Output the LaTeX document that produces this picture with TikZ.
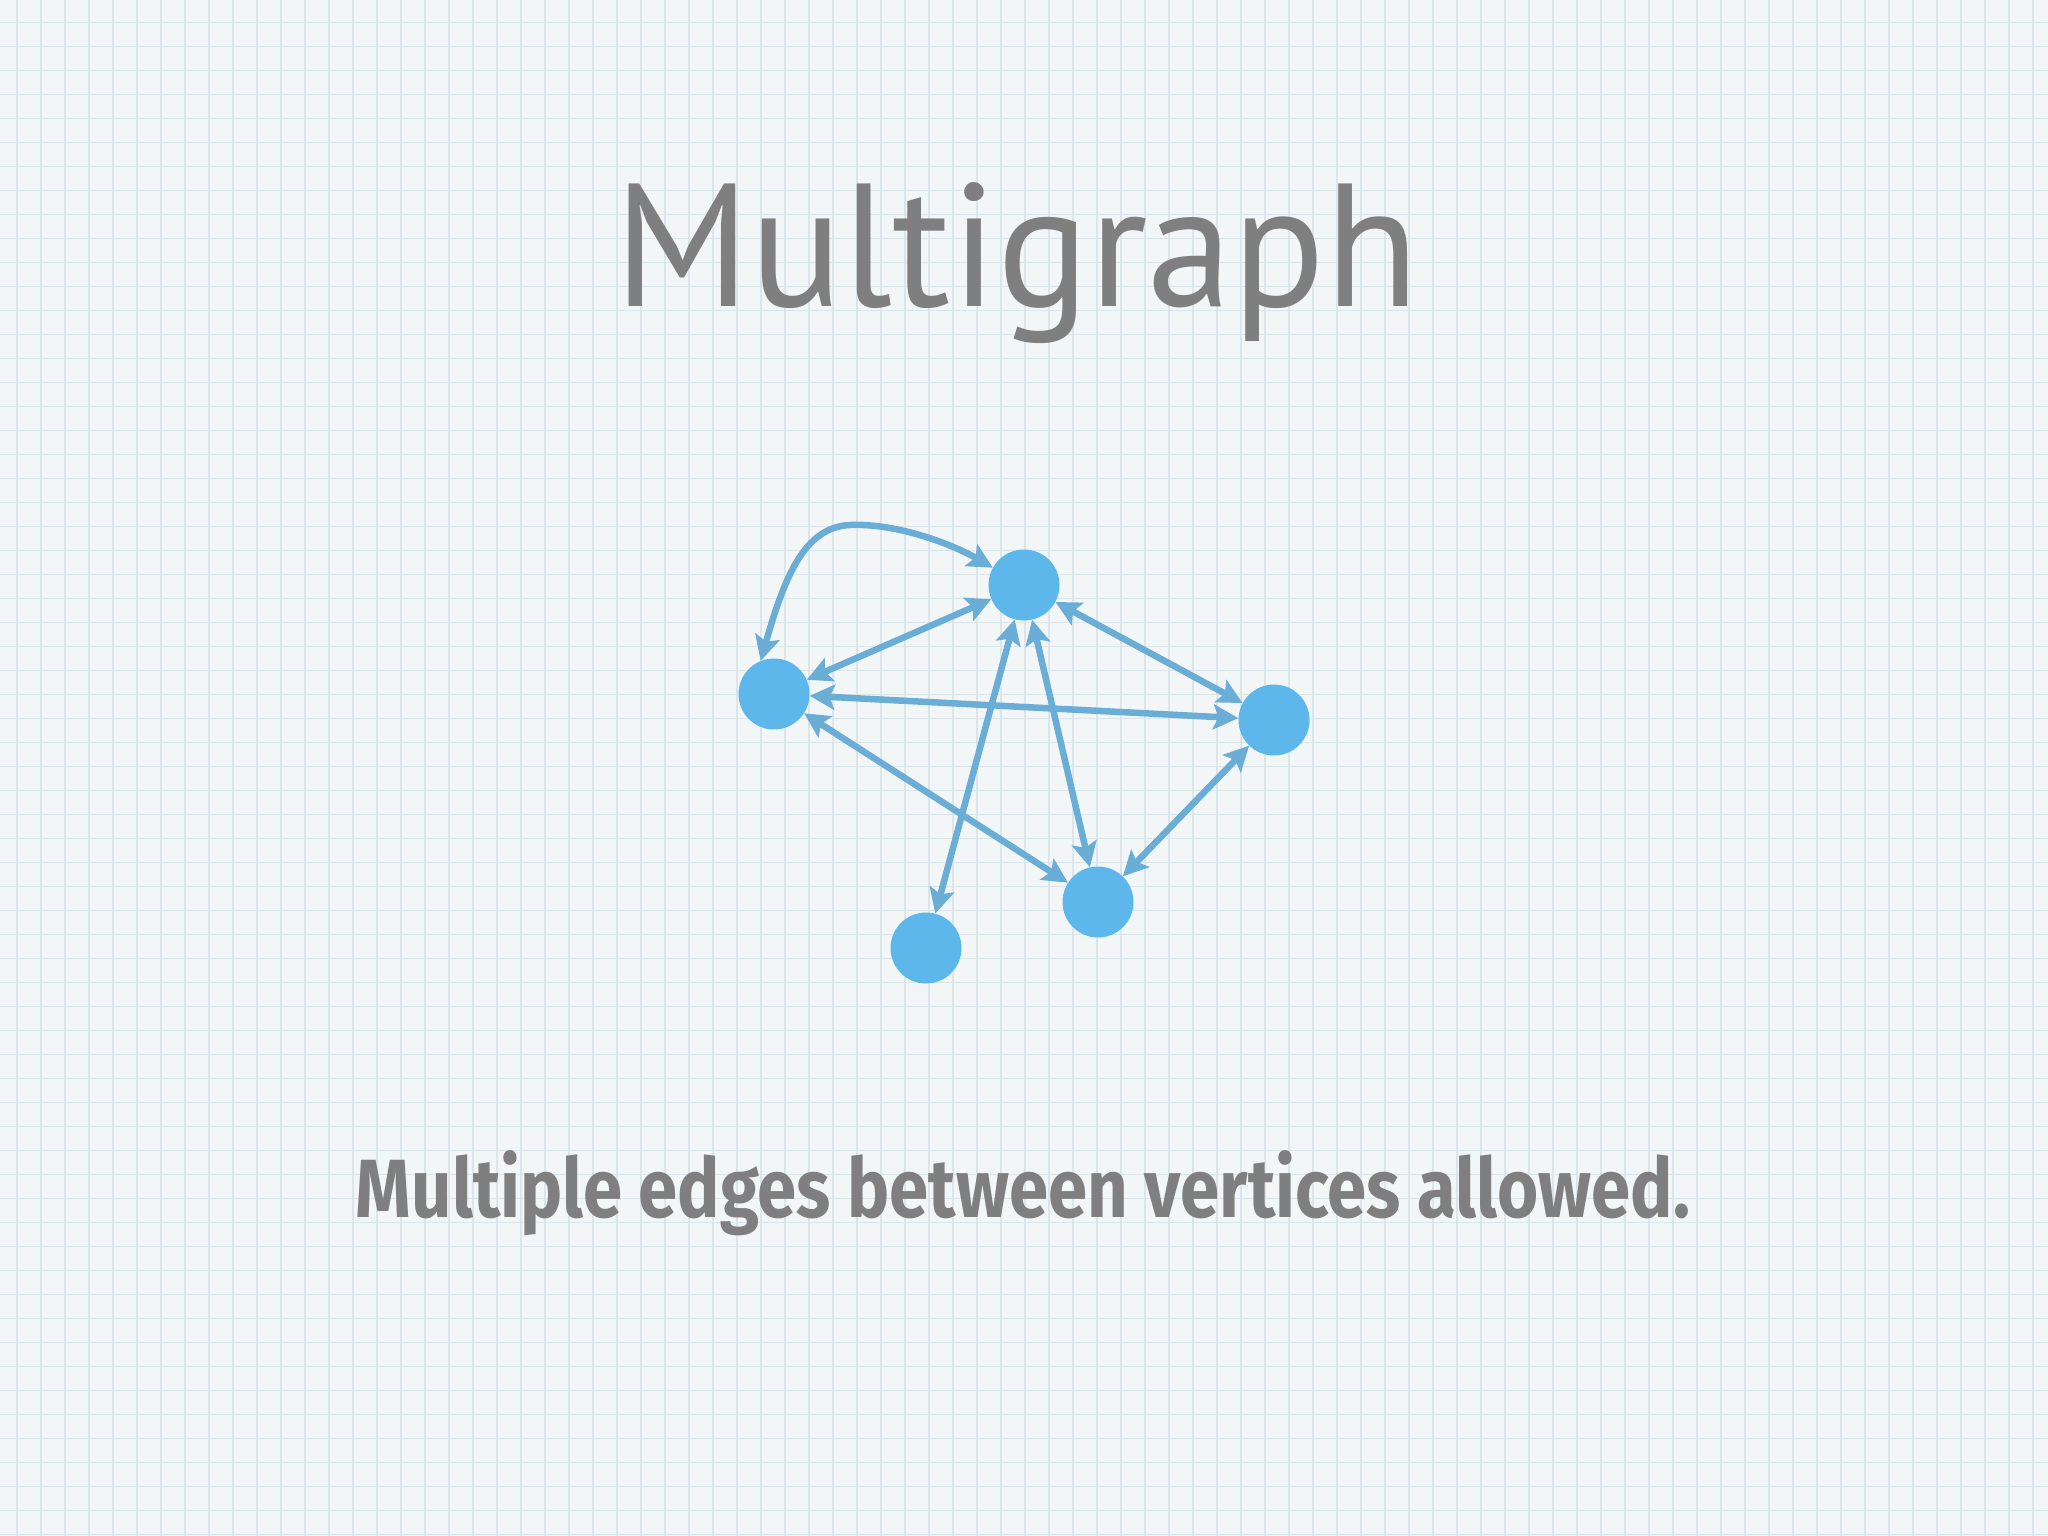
\documentclass[tikz,border=0pt]{standalone}
\usepackage{fontspec}
\usetikzlibrary{arrows.meta}
\newfontfamily\titlefont{PT Sans}
\newfontfamily\subfont{Fira Sans}
\definecolor{bg}{HTML}{F3F6F7}
\definecolor{gridc}{HTML}{DBE6EA}
\definecolor{vert}{HTML}{5DB7EB}
\definecolor{edgec}{HTML}{6AAED8}
\definecolor{txt}{HTML}{7F7F7F}
\begin{document}
\begin{tikzpicture}[x=1pt,y=-1pt,
  vertex/.style={circle,fill=vert,minimum size=71pt,inner sep=0pt},
  link/.style={draw=edgec,line width=6.5pt,
    {Stealth[length=25pt,width=25pt,inset=5pt]}-{Stealth[length=25pt,width=25pt,inset=5pt]}}]
\fill[bg] (0,0) rectangle (2048,1536);
\useasboundingbox (0,0) rectangle (2048,1536);
\foreach \i in {0,...,84} \draw[gridc,line width=1.3pt] ({17+24*\i},0) -- ({17+24*\i},1536);
\foreach \j in {0,...,63} \draw[gridc,line width=1.3pt] (0,{22.7+24*\j}) -- (2048,{22.7+24*\j});

\node[anchor=base,text=txt,inner sep=0pt] (title) at (1017,306)
  {\resizebox{805pt}{124pt}{\titlefont\fontsize{170}{170}\selectfont Multigraph}};
\node[anchor=base,text=txt,inner sep=0pt] (sub) at (1023,1217)
  {\resizebox{1334pt}{67pt}{\subfont\bfseries\fontsize{90}{90}\selectfont Multiple edges between vertices allowed.}};

\node[vertex] (T) at (1024,585) {};
\node[vertex] (L) at (774,694) {};
\node[vertex] (R) at (1274,720) {};
\node[vertex] (M) at (1098,902) {};
\node[vertex] (B) at (926,948) {};

\draw[link] (L.112) .. controls (785,575) and (805,527) .. (850,525)
  .. controls (895,523) and (950,543) .. (T.151);
\draw[link] (L) -- (T);
\draw[link] (T) -- (R);
\draw[link] (L) -- (R);
\draw[link] (L) -- (M);
\draw[link] (T) -- (B);
\draw[link] (T) -- (M);
\draw[link] (R) -- (M);
\end{tikzpicture}
\end{document}
